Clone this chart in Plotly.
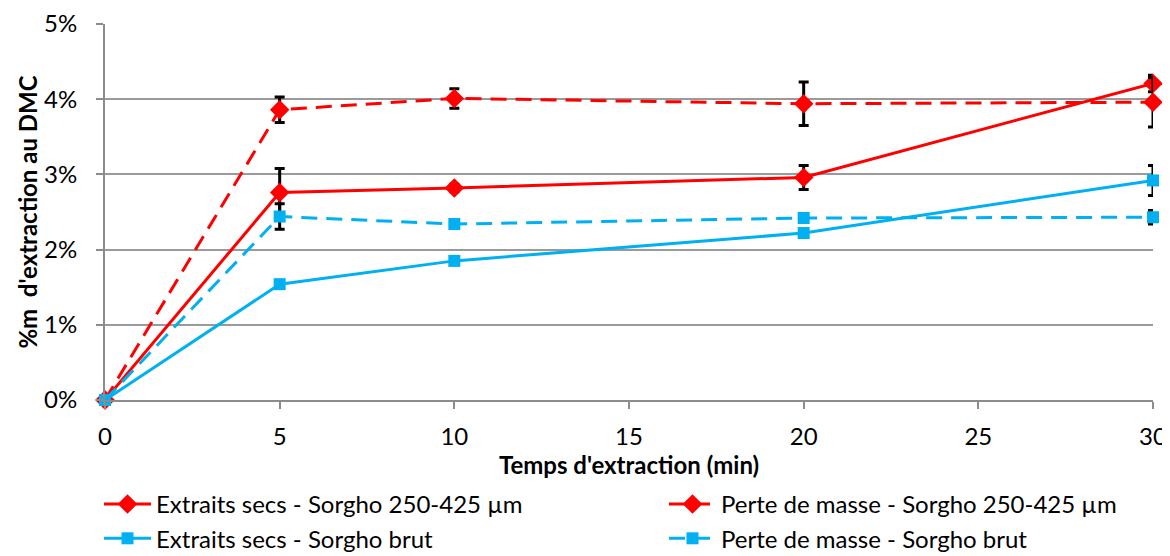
import plotly.graph_objects as go

time_min = [0, 5, 10, 20, 30]

es_250 = [0.0, 2.76, 2.82, 2.96, 4.21]
es_250_err = [0.0, 0.32, 0.05, 0.16, 0.11]

pm_250 = [0.0, 3.86, 4.01, 3.94, 3.96]
pm_250_err = [0.0, 0.17, 0.13, 0.29, 0.33]

es_brut = [0.0, 1.54, 1.85, 2.22, 2.92]
es_brut_err = [0.0, 0.03, 0.03, 0.05, 0.20]

pm_brut = [0.0, 2.44, 2.34, 2.42, 2.43]
pm_brut_err = [0.0, 0.17, 0.03, 0.03, 0.09]

names = [
    "Extraits secs - Sorgho 250-425 µm",
    "Perte de masse - Sorgho 250-425 µm",
    "Extraits secs - Sorgho brut",
    "Perte de masse - Sorgho brut",
]

RED = "#FF0000"
BLUE = "#00B0F0"
DASH = "16px,9px"

def pct(v):
    return [a / 100 for a in v]

series = [
    (es_250, es_250_err, RED, "diamond", 15, "solid", "legend"),
    (pm_250, pm_250_err, RED, "diamond", 15, DASH, "legend2"),
    (es_brut, es_brut_err, BLUE, "square", 12, "solid", "legend"),
    (pm_brut, pm_brut_err, BLUE, "square", 12, DASH, "legend2"),
]

fig = go.Figure()
for name, (vals, errs, col, sym, size, dash, leg) in zip(names, series):
    fig.add_trace(go.Scatter(
        x=time_min, y=pct(vals), name=name, mode="lines+markers",
        line=dict(color=col, width=3, dash=dash),
        marker=dict(symbol=sym, size=size, color=col),
        error_y=dict(type="data", array=pct(errs), visible=True,
                     color="black", thickness=3, width=5),
        cliponaxis=False, legend=leg,
    ))

# page body has an 8px default margin: figure is sized/offset to compensate
W, H = 1162, 548
PLOT_W = W - 97 - 17
FONT = "Lato, 'Open Sans', sans-serif"
leg_common = dict(
    orientation="v", xref="paper", yref="container", yanchor="top",
    y=1 - 474 / H, xanchor="left", itemwidth=47,
    font=dict(size=24), bgcolor="rgba(0,0,0,0)", traceorder="normal",
)
fig.update_layout(
    width=W, height=H,
    margin=dict(l=97, r=17, t=16, b=156, autoexpand=False),
    paper_bgcolor="white", plot_bgcolor="white",
    font=dict(family=FONT, size=23, color="black"),
    xaxis=dict(
        range=[0, 30], tickvals=[0, 5, 10, 15, 20, 25, 30],
        showgrid=False, showline=True, linecolor="#8C8C8C", linewidth=2,
        ticks="outside", ticklen=7, tickcolor="#8C8C8C", tickwidth=2,
        zeroline=False, tickfont=dict(size=24), ticklabelstandoff=7,
        automargin=False,
        title=dict(text="<b>Temps d'extraction (min)</b>", font=dict(size=24), standoff=8),
    ),
    yaxis=dict(
        range=[0, 0.05], tickvals=[0, 0.01, 0.02, 0.03, 0.04, 0.05], tickformat=".0%",
        showgrid=True, gridcolor="#9A9A9A", gridwidth=2,
        showline=True, linecolor="#8C8C8C", linewidth=2,
        ticks="outside", ticklen=7, tickcolor="#8C8C8C", tickwidth=2,
        zeroline=False, tickfont=dict(size=24), ticklabelstandoff=14,
        automargin=False,
        title=dict(text="<b>%m  d'extraction au DMC</b>", font=dict(size=24), standoff=0),
    ),
    legend=dict(leg_common, x=(91 - 97) / PLOT_W),
    legend2=dict(leg_common, x=(656 - 97) / PLOT_W),
)

fig.write_html("out.html")
